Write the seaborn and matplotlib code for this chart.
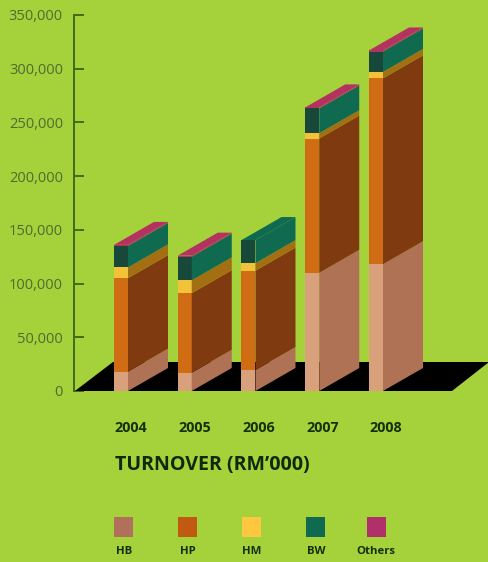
import matplotlib
matplotlib.use("Agg")
import matplotlib.pyplot as plt
import seaborn as sns
import numpy as np
from matplotlib.patches import Rectangle

years = ["2004", "2005", "2006", "2007", "2008"]
hb = [18000, 17000, 19500, 110000, 118000]
hp = [87000, 74000, 92500, 125000, 173000]
hm = [10000, 12000, 7000, 5000, 6000]
bw = [20000, 22000, 21500, 23000, 19000]
others = [1000, 1000, 0, 1000, 1000]
series_names = ["HB", "HP", "HM", "BW", "Others"]
series_values = [hb, hp, hm, bw, others]
front_colors = ["#d9a07c", "#d06c14", "#f2c238", "#17483a", "#b4325f"]
side_colors = ["#b07254", "#7f3a10", "#a36f12", "#0f6a50", "#b4325f"]
legend_colors = ["#b0705a", "#c05a10", "#fdc840", "#0f6a50", "#b0306a"]
tick_values = [0, 50000, 100000, 150000, 200000, 250000, 300000, 350000]

W, H = 489, 562
BG = "#a5d23b"
AXC = "#3f6d12"
sns.set_theme(style="white")
plt.rcParams["font.family"] = ["Open Sans", "DejaVu Sans"]

fig = plt.figure(figsize=(W / 100, H / 100), dpi=100, facecolor=BG)
L, R, B, T = 74, 489, 391, 15
ax = fig.add_axes([L / W, 1 - B / H, (R - L) / W, (B - T) / H], facecolor="none")

step = 63.75              # pixels per category
x0_px = 121               # centre of the first front face
bar_w = 14 / step
depth_x = 40 / step
depth_y = 23 / (376 / 350000)
xlim = ((L - x0_px) / step, (R - x0_px) / step)

# floor
floor_y = 29 / (376 / 350000)
ax.fill([xlim[0] + 0.015, (113 - x0_px) / step, xlim[1], (452 - x0_px) / step],
        [0, floor_y, floor_y, 0], color="black", lw=0, zorder=1)

# stacked fronts through seaborn, sides and tops on the same scales
bottom = np.zeros(len(years))
pos = np.arange(len(years))
top_colors = [side_colors[0]] * len(years)
for vals, fc, sc in zip(series_values, front_colors, side_colors):
    vals = np.asarray(vals, float)
    sns.barplot(x=years, y=vals, bottom=bottom, width=bar_w, color=fc, saturation=1,
                linewidth=0, ax=ax, zorder=3)
    top = bottom + vals
    for p, b0, t0, v in zip(pos, bottom, top, vals):
        xr = p + bar_w / 2
        ax.fill([xr, xr + depth_x, xr + depth_x, xr],
                [b0, b0 + depth_y, t0 + depth_y, t0], color=sc, lw=0, zorder=3)
        if v > 0:
            top_colors[p] = sc
    bottom = top
for p, t0, col in zip(pos, bottom, top_colors):
    xl, xr = p - bar_w / 2, p + bar_w / 2
    ax.fill([xl, xr, xr + depth_x, xl + depth_x],
            [t0, t0, t0 + depth_y, t0 + depth_y], color=col, lw=0, zorder=3)

ax.set_xlim(*xlim)
ax.set_ylim(0, 350000)
ax.set_xlabel("")
ax.set_ylabel("")
ax.set_yticks(tick_values)
ax.set_yticklabels([f"{v:,}" for v in tick_values], fontsize=10.5, color="#4f6b30")
ax.tick_params(axis="y", direction="in", length=7.5, width=1.4, color=AXC, pad=8, left=True)
ax.set_xticks(pos + 10 / step)
ax.set_xticklabels(years, fontsize=10.3, fontweight="bold", color="#14300a")
ax.tick_params(axis="x", length=0, pad=21.5)
for s in ["top", "right", "bottom"]:
    ax.spines[s].set_visible(False)
ax.spines["left"].set_color(AXC)
ax.spines["left"].set_linewidth(1.4)

fig.text(115 / W, 1 - 465 / H, "TURNOVER (RM\u2019000)", fontsize=14.1, fontweight="bold",
         color="#12280a", va="center", ha="left")

centres = [124, 188, 252, 316, 376]
for c, name, col in zip(centres, series_names, legend_colors):
    fig.add_artist(Rectangle(((c - 9.5) / W, 1 - 537 / H), 19 / W, 20 / H,
                             transform=fig.transFigure, color=col, lw=0))
    fig.text(c / W, 1 - 552 / H, name, fontsize=8.2, fontweight="bold", color="#14300a",
             ha="center", va="center")

fig.savefig("out.png", dpi=100, facecolor=BG)
